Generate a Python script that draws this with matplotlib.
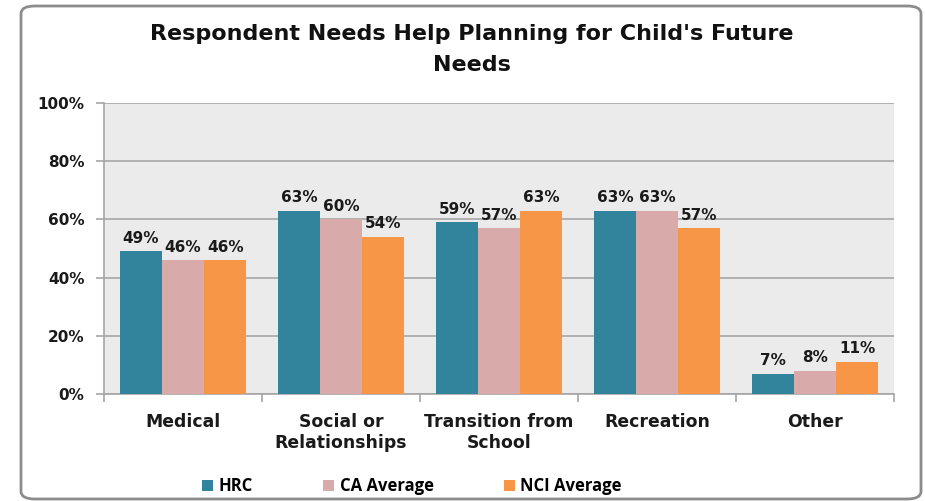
import matplotlib
matplotlib.use("Agg")
import matplotlib.pyplot as plt
import numpy as np
from matplotlib.patches import FancyBboxPatch, Patch

categories = ["Medical", "Social or\nRelationships", "Transition from\nSchool", "Recreation", "Other"]
series_names = ["HRC", "CA Average", "NCI Average"]
hrc = [49, 63, 59, 63, 7]
ca_avg = [46, 60, 57, 63, 8]
nci_avg = [46, 54, 63, 57, 11]
yticks = [0, 20, 40, 60, 80, 100]
ytick_labels = ["0%", "20%", "40%", "60%", "80%", "100%"]
title = "Respondent Needs Help Planning for Child's Future\nNeeds"

colors = ["#31849B", "#D9AAAA", "#F79646"]
leg_font = "Open Sans"
main_font = "DejaVu Sans"

fig = plt.figure(figsize=(9.25, 5.01), dpi=100)
fig.patch.set_facecolor("white")

# Rounded chart border
border = FancyBboxPatch((21 / 925, 1 - 499 / 501), (921 - 21) / 925, (499 - 6) / 501,
                        boxstyle="round,pad=0,rounding_size=0.015",
                        transform=fig.transFigure, facecolor="none",
                        edgecolor="#8C8C8C", linewidth=2, zorder=0)
fig.patches.append(border)

ax = fig.add_axes([104 / 925, 1 - 394 / 501, (894 - 104) / 925, (394 - 103) / 501])
ax.set_facecolor("#EBEBEB")

x = np.arange(len(categories))
width = 0.267
all_series = [hrc, ca_avg, nci_avg]
for i, (vals, name, col) in enumerate(zip(all_series, series_names, colors)):
    pos = x + (i - 1) * width
    bars = ax.bar(pos, vals, width=width, color=col, label=name, zorder=3)
    for b, v in zip(bars, vals):
        ax.annotate(f"{v}%", (b.get_x() + b.get_width() / 2, b.get_height()),
                    xytext=(0, 4), textcoords="offset points", ha="center", va="bottom",
                    fontsize=11, fontweight="bold", family=main_font, color="#1a1a1a", zorder=4)

ax.set_xlim(-0.5, len(categories) - 0.5)
ax.set_ylim(0, 100)
ax.set_yticks(yticks)
ax.set_yticklabels(ytick_labels, fontsize=11, fontweight="bold", family=main_font, color="#1a1a1a")
ax.yaxis.grid(True, color="#A6A6A6", linewidth=1.2, zorder=1)
ax.set_axisbelow(True)

ax.set_xticks(x)
ax.set_xticklabels(categories, fontsize=12.4, fontweight="bold", family=main_font, color="#1a1a1a",
                   linespacing=1.2)
ax.tick_params(axis="x", which="major", length=0, pad=14)
ax.set_xticks(np.arange(-0.5, len(categories)), minor=True)
ax.tick_params(axis="x", which="minor", length=6, color="#A6A6A6", width=1.2)
ax.tick_params(axis="y", length=6, color="#A6A6A6", width=1.2, pad=8)

for s in ["top", "right"]:
    ax.spines[s].set_visible(False)
for s in ["left", "bottom"]:
    ax.spines[s].set_color("#A6A6A6")
    ax.spines[s].set_linewidth(1.2)

fig.text(472 / 925, 1 - 49.5 / 501, title, ha="center", va="center", fontsize=16,
         fontweight="bold", family=main_font, color="#111111", linespacing=1.65)

handles = [Patch(facecolor=c, edgecolor="none") for c in colors]
fig.legend(handles, series_names, loc="center", bbox_to_anchor=(412 / 925, 1 - 486 / 501),
           ncol=3, frameon=False, handlelength=0.65, handleheight=0.65, handletextpad=0.35,
           columnspacing=4.2, prop={"family": leg_font, "weight": "bold", "size": 12})

fig.savefig("out.png", dpi=100)
